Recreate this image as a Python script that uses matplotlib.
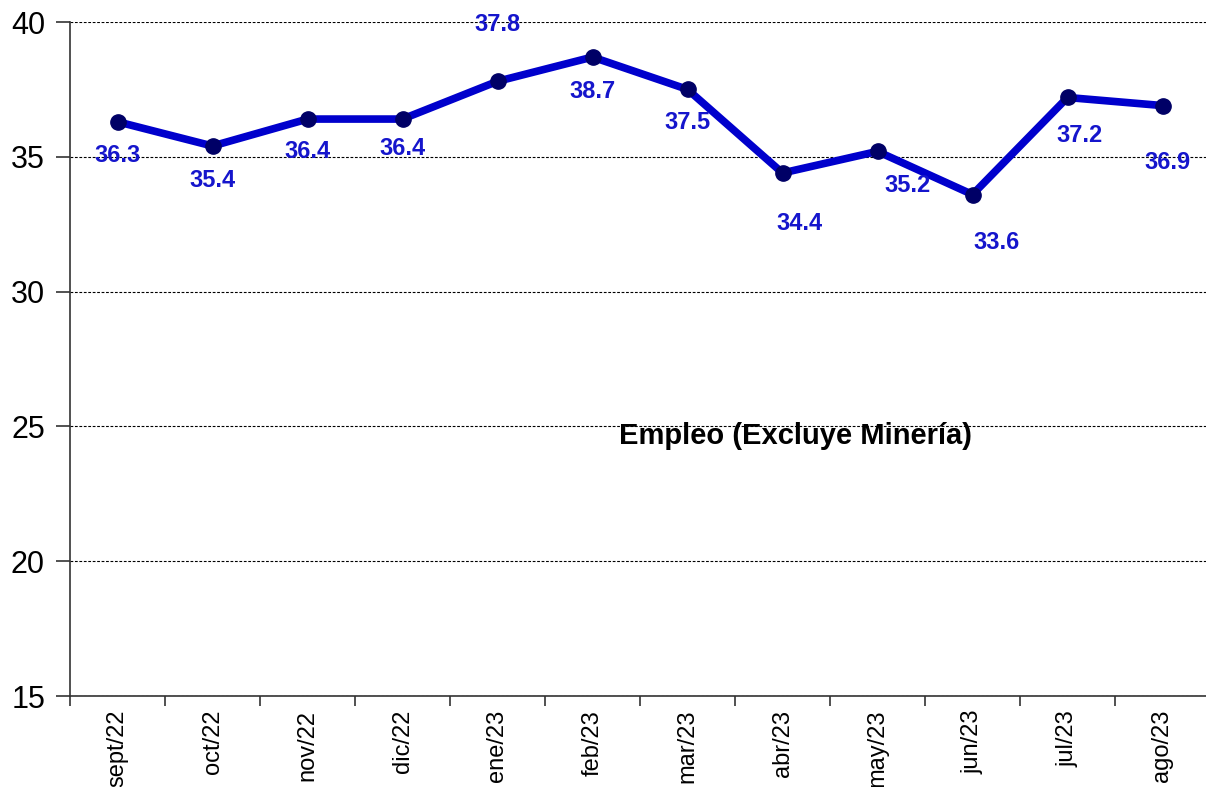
import matplotlib
matplotlib.use("Agg")
import matplotlib.pyplot as plt
import numpy as np

plt.rcParams['font.family'] = ['Liberation Sans', 'DejaVu Sans']

meses = ["sept/22", "oct/22", "nov/22", "dic/22", "ene/23", "feb/23",
         "mar/23", "abr/23", "may/23", "jun/23", "jul/23", "ago/23"]
empleo = [36.3, 35.4, 36.4, 36.4, 37.8, 38.7, 37.5, 34.4, 35.2, 33.6, 37.2, 36.9]
titulo = "Empleo (Excluye Minería)"

# desplazamiento de etiquetas en pixeles (dx, dy)
offsets = [(0, -34), (0, -34), (0, -32), (0, -29), (0, 57), (0, -34),
           (0, -33), (17, -51), (30, -34), (24, -48), (12, -38), (5, -57)]

fig = plt.figure(figsize=(12.06, 7.87), dpi=100)
ax = fig.add_axes([70/1206, 1-696/787, 1140/1206, 674/787])

x = np.arange(len(meses))
ax.plot(x, empleo, color='#0000CC', linewidth=5.5, marker='o',
        markersize=11, markerfacecolor='#000066', markeredgecolor='#000066',
        zorder=3, clip_on=False)

for i, v in enumerate(empleo):
    dx, dy = offsets[i]
    ax.annotate(f"{v:.1f}", (x[i], v), xytext=(dx*0.72, dy*0.72),
                textcoords='offset points', ha='center', va='center',
                color='#1515CC', fontsize=17, fontweight='bold')

ax.set_xlim(-0.5, len(meses)-0.5)
ax.set_ylim(15, 40)
ax.set_yticks([15, 20, 25, 30, 35, 40])
ax.yaxis.grid(True, color='black', linestyle=(0, (2.5, 1.5)), linewidth=0.8)
ax.set_axisbelow(True)

ax.set_xticks(x)
ax.set_xticklabels(meses, rotation=90, fontsize=17)
ax.set_xticks(np.arange(-0.5, len(meses), 1), minor=True)
ax.tick_params(axis='x', which='major', length=0, pad=10)
ax.tick_params(axis='x', which='minor', length=7, width=1.2, color='#333333')
ax.tick_params(axis='y', labelsize=22, length=10, width=1.2, color='#333333', pad=8)

for s in ['top', 'right']:
    ax.spines[s].set_visible(False)
for s in ['left', 'bottom']:
    ax.spines[s].set_linewidth(1.2)
    ax.spines[s].set_color('#333333')

ax.text(0.636, 0.386, titulo, transform=ax.transAxes, ha='center', va='center',
        fontsize=21, fontweight='bold', color='black')

fig.savefig("out.png", dpi=100)
